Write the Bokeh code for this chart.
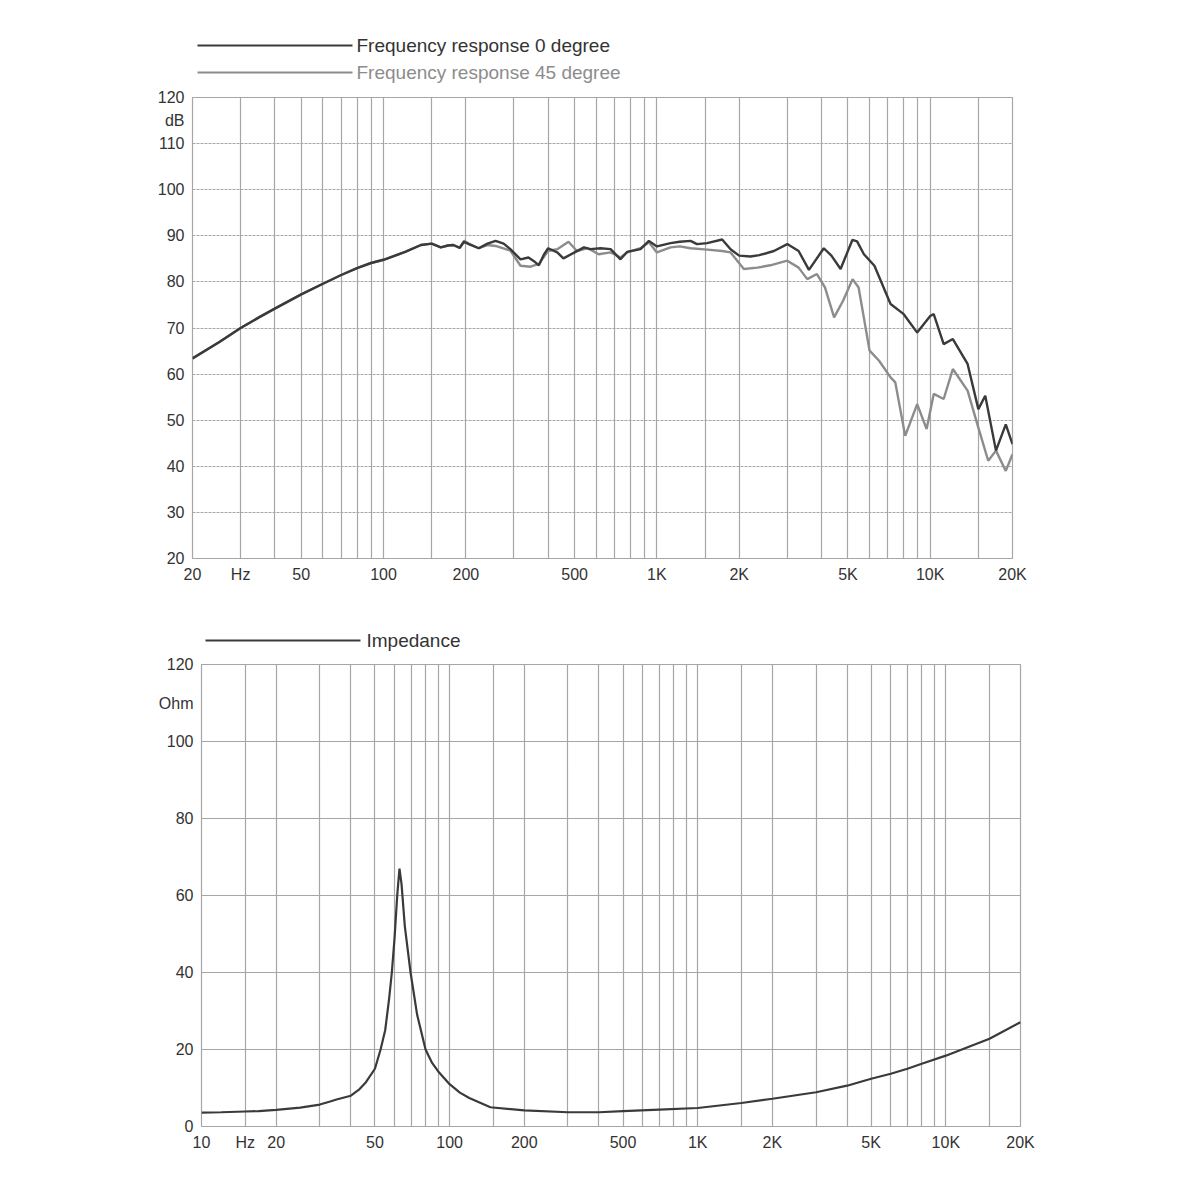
from bokeh.plotting import figure
from bokeh.models import FixedTicker, Range1d
from bokeh.core.properties import value
from bokeh.embed import file_html
from bokeh.resources import INLINE

# ---------------- data ----------------
fr0_f = [20, 25, 30, 35, 40, 50, 60, 70, 80, 90, 100, 120, 137, 150, 162, 172, 180, 190,
         197, 205, 223, 240, 257, 275, 291, 317, 339, 355, 370, 385, 400, 432, 455, 500,
         541, 572, 622, 677, 736, 778, 871, 935, 1000, 1122, 1212, 1328, 1402, 1528, 1733,
         1860, 2000, 2200, 2370, 2680, 3000, 3300, 3600, 4080, 4350, 4700, 5190, 5400,
         5720, 6250, 7160, 8000, 8960, 10000, 10300, 11200, 12100, 13700, 15000, 15900,
         17400, 18900, 20000]
fr0_db = [63.4, 66.9, 70.0, 72.3, 74.2, 77.3, 79.6, 81.5, 83.0, 84.1, 84.8, 86.5, 88.0, 88.3,
          87.5, 87.9, 88.0, 87.4, 88.7, 88.2, 87.3, 88.3, 88.9, 88.3, 87.1, 84.9, 85.3, 84.5,
          83.6, 85.8, 87.3, 86.4, 85.1, 86.4, 87.5, 87.1, 87.3, 87.1, 84.9, 86.5, 87.1, 88.9,
          87.7, 88.4, 88.7, 88.9, 88.2, 88.4, 89.2, 87.1, 85.7, 85.5, 85.8, 86.7, 88.2, 86.7,
          82.6, 87.3, 85.7, 82.8, 89.1, 88.8, 86.0, 83.5, 75.2, 73.0, 69.0, 72.6, 73.0, 66.5,
          67.6, 62.2, 52.4, 55.3, 43.4, 49.1, 44.8]

fr45_f = [20, 25, 30, 35, 40, 50, 60, 70, 80, 90, 100, 120, 137, 150, 162, 172, 180, 190,
          197, 205, 223, 240, 257, 291, 317, 345, 370, 400, 432, 475, 510, 555, 572, 612,
          677, 736, 778, 871, 935, 1000, 1122, 1212, 1328, 1528, 1733, 1860, 2080, 2330,
          2600, 3000, 3300, 3550, 3850, 4120, 4450, 4800, 5200, 5470, 6000, 6500, 7160,
          7450, 8100, 8960, 9700, 10300, 11200, 12100, 13700, 15000, 16300, 17400, 18900,
          20000]
fr45_db = [63.4, 66.9, 70.0, 72.3, 74.2, 77.3, 79.6, 81.5, 83.0, 84.1, 84.8, 86.5, 88.0, 88.3,
           87.5, 87.9, 88.0, 87.4, 88.9, 88.3, 87.3, 88.0, 87.8, 86.8, 83.5, 83.3, 83.9, 86.7,
           87.1, 88.7, 86.7, 87.3, 87.0, 86.0, 86.4, 85.3, 86.4, 87.3, 88.6, 86.4, 87.5, 87.7,
           87.3, 87.0, 86.7, 86.4, 82.8, 83.1, 83.6, 84.6, 83.1, 80.6, 81.7, 78.8, 72.3, 75.9,
           80.6, 78.8, 65.1, 62.9, 59.3, 58.2, 46.6, 53.5, 48.1, 55.7, 54.6, 61.1, 56.4, 48.4,
           41.2, 43.4, 39.0, 42.6]

imp_f = [10, 12, 15, 17, 20, 25, 30, 33, 35, 40, 43, 46, 50, 52.7, 55, 57, 58.5, 60, 61.5,
         62.8, 64, 66, 69.6, 74, 80, 85, 90, 100, 110, 120, 146, 200, 300, 400, 500, 700,
         1000, 1500, 2000, 3000, 4000, 5000, 6000, 7000, 8000, 10000, 15000, 20000]
imp_ohm = [3.6, 3.7, 3.9, 4.0, 4.3, 4.9, 5.7, 6.5, 7.0, 8.0, 9.5, 11.5, 15.0, 20, 25, 33, 40,
           49, 60, 67, 63, 52, 40, 29, 20, 16.5, 14.3, 11.0, 8.8, 7.4, 5.0, 4.2, 3.7, 3.7, 4.0,
           4.4, 4.8, 6.1, 7.2, 8.9, 10.6, 12.4, 13.7, 15.0, 16.3, 18.4, 22.8, 27.1]

top_xticks = [20, 30, 50, 100, 200, 500, 1000, 2000, 5000, 10000, 20000]
top_xlabels = ["20", "Hz", "50", "100", "200", "500", "1K", "2K", "5K", "10K", "20K"]
top_xgrid = [20, 30, 40, 50, 60, 70, 80, 90, 100, 150, 200, 300, 400, 500, 600, 700, 800,
             900, 1000, 1500, 2000, 3000, 4000, 5000, 6000, 7000, 8000, 9000, 10000, 15000,
             20000]
top_yticks = [20, 30, 40, 50, 60, 70, 80, 90, 100, 110, 115, 120]
top_ylabels = ["20", "30", "40", "50", "60", "70", "80", "90", "100", "110", "dB", "120"]
top_ygrid = [20, 30, 40, 50, 60, 70, 80, 90, 100, 110, 120]

bot_xticks = [10, 15, 20, 50, 100, 200, 500, 1000, 2000, 5000, 10000, 20000]
bot_xlabels = ["10", "Hz", "20", "50", "100", "200", "500", "1K", "2K", "5K", "10K", "20K"]
bot_xgrid = [10, 15, 20, 30, 40, 50, 60, 70, 80, 90, 100, 150, 200, 300, 400, 500, 600, 700,
             800, 900, 1000, 1500, 2000, 3000, 4000, 5000, 6000, 7000, 8000, 9000, 10000,
             15000, 20000]
bot_yticks = [0, 20, 40, 60, 80, 100, 110, 120]
bot_ylabels = ["0", "20", "40", "60", "80", "100", "Ohm", "120"]
bot_ygrid = [0, 20, 40, 60, 80, 100, 120]

top_legend_labels = ["Frequency response 0 degree", "Frequency response 45 degree"]
bot_legend_labels = ["Impedance"]

# ---------------- style ----------------
FONT = "Liberation Sans"
TXT = "#333333"
GRID = "#a6a6a6"
DARK = "#3a3a3a"
GRAY = "#8c8c8c"
W = 1190


def style(p, xticks, xlabels, xgrid, yticks, ylabels, ygrid, hdash):
    p.xaxis.ticker = FixedTicker(ticks=xticks)
    p.xaxis.major_label_overrides = {t: l for t, l in zip(xticks, xlabels)}
    p.yaxis.ticker = FixedTicker(ticks=yticks)
    p.yaxis.major_label_overrides = {t: l for t, l in zip(yticks, ylabels)}
    p.xgrid[0].ticker = FixedTicker(ticks=xgrid)
    p.ygrid[0].ticker = FixedTicker(ticks=ygrid)
    p.xgrid.grid_line_color = GRID
    p.xgrid.grid_line_width = 1.2
    p.ygrid.grid_line_color = GRID
    p.ygrid.grid_line_width = 1.2
    p.ygrid.grid_line_dash = hdash
    for ax in (p.xaxis, p.yaxis):
        ax.major_tick_line_color = None
        ax.minor_tick_line_color = None
        ax.major_tick_out = 0
        ax.major_tick_in = 0
        ax.axis_line_color = None
        ax.major_label_text_font = FONT
        ax.major_label_text_font_size = "16px"
        ax.major_label_text_color = TXT
    p.xaxis.major_label_standoff = 7
    p.yaxis.major_label_standoff = 8
    p.outline_line_color = GRID
    p.outline_line_width = 1.2


def legend_fig(height, rows):
    # rows: (line_x0, line_x1, y, label, line colour, text colour, text_x) in page pixels
    f = figure(width=W, height=height, x_range=Range1d(0, W), y_range=Range1d(height, 0),
               x_axis_location=None, y_axis_location=None, min_border=0,
               output_backend="svg", toolbar_location=None)
    f.grid.visible = False
    f.outline_line_color = None
    for x0, x1, y, label, lc, tc, tx in rows:
        f.segment(x0=[x0], y0=[y], x1=[x1], y1=[y], line_color=lc, line_width=2.2)
        f.text(x=[tx], y=[y], text=[label], text_font=value(FONT), text_font_size="19px",
               text_baseline="middle", text_align="left", text_color=tc)
    return f


# ---------------- legend above top chart ----------------
leg1 = legend_fig(85, [
    (197, 352, 45, top_legend_labels[0], DARK, TXT, 356),
    (197, 352, 72, top_legend_labels[1], GRAY, GRAY, 356),
])

# ---------------- top chart ----------------
p1 = figure(width=W, height=523, x_axis_type="log",
            x_range=Range1d(20, 20000), y_range=Range1d(20, 120),
            min_border_left=192, min_border_right=W - 192 - 820, min_border_top=12,
            min_border_bottom=50, output_backend="svg", toolbar_location=None)
style(p1, top_xticks, top_xlabels, top_xgrid, top_yticks, top_ylabels, top_ygrid, "3 1")
p1.line(fr45_f, fr45_db, line_color=GRAY, line_width=2.4)
p1.line(fr0_f, fr0_db, line_color=DARK, line_width=2.4)

# ---------------- legend above bottom chart ----------------
leg2 = legend_fig(44, [
    (205, 360, 32, bot_legend_labels[0], DARK, TXT, 366),
])

# ---------------- bottom chart ----------------
p2 = figure(width=W, height=524, x_axis_type="log",
            x_range=Range1d(10, 20000), y_range=Range1d(0, 120),
            min_border_left=201, min_border_right=W - 201 - 819, min_border_top=12,
            min_border_bottom=50, output_backend="svg", toolbar_location=None)
style(p2, bot_xticks, bot_xlabels, bot_xgrid, bot_yticks, bot_ylabels, bot_ygrid, "solid")
p2.line(imp_f, imp_ohm, line_color=DARK, line_width=2.2)

open("out.html", "w").write(file_html([leg1, p1, leg2, p2], INLINE))
